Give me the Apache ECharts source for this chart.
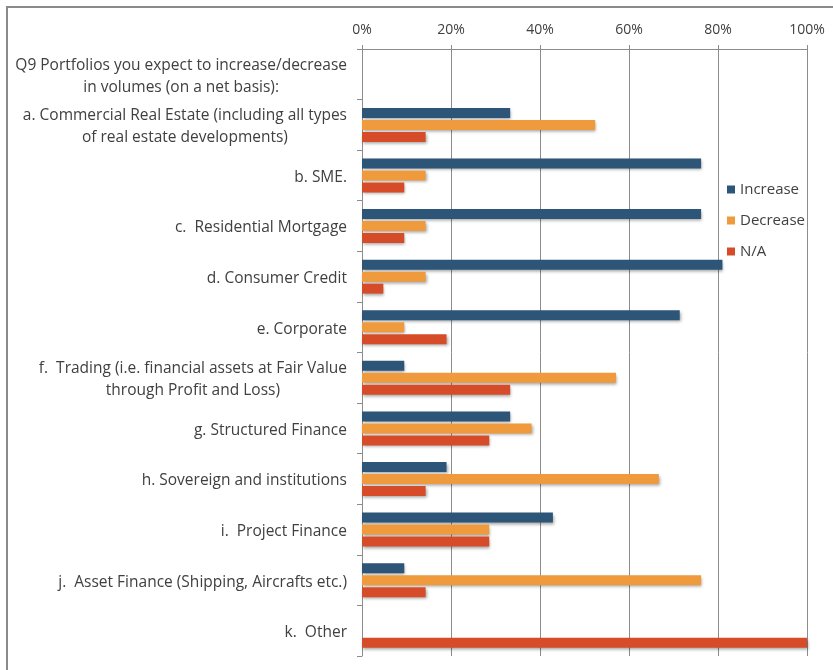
<!DOCTYPE html>
<html>
<head>
<meta charset="utf-8">
<script src="https://cdn.jsdelivr.net/npm/echarts@6/dist/echarts.min.js"></script>
<style>
html,body{margin:0;padding:0;background:#fff;}
#main{width:833px;height:670px;}
</style>
</head>
<body>
<div id="main"></div>
<script>
var categories = [
  'Q9 Portfolios you expect to increase/decrease\nin volumes (on a net basis):',
  'a. Commercial Real Estate (including all types\nof real estate developments)',
  'b. SME.',
  'c.  Residential Mortgage',
  'd. Consumer Credit',
  'e. Corporate',
  'f.  Trading (i.e. financial assets at Fair Value\nthrough Profit and Loss)',
  'g. Structured Finance',
  'h. Sovereign and institutions',
  'i.  Project Finance',
  'j.  Asset Finance (Shipping, Aircrafts etc.)',
  'k.  Other'
];
var increase = [null, 33.3, 76.2, 76.2, 81.0, 71.4, 9.5, 33.3, 19.0, 42.9, 9.5, 0];
var decrease = [null, 52.4, 14.3, 14.3, 14.3, 9.5, 57.1, 38.1, 66.7, 28.6, 76.2, 0];
var na = [null, 14.3, 9.5, 9.5, 4.8, 19.0, 33.3, 28.6, 14.3, 28.6, 14.3, 100];
var xTicks = [0, 20, 40, 60, 80, 100];

var myChart = echarts.init(document.getElementById('main'));
var FONT = 'Open Sans';
var shadow = {
  shadowColor: 'rgba(0,0,0,0.35)',
  shadowBlur: 3,
  shadowOffsetX: 1,
  shadowOffsetY: 2
};
function bar(name, data, color) {
  return {
    name: name,
    type: 'bar',
    data: data,
    barWidth: 10,
    barGap: '20%',
    itemStyle: Object.assign({color: color}, shadow)
  };
}
var option = {
  animation: false,
  textStyle: {fontFamily: FONT},
  graphic: [{
    type: 'rect',
    shape: {x: 7, y: 7, width: 900, height: 700},
    style: {fill: 'none', stroke: '#8a8a8a', lineWidth: 2},
    silent: true
  }],
  legend: {
    orient: 'vertical',
    left: 722,
    top: 177,
    itemWidth: 8,
    itemHeight: 8,
    itemGap: 16,
    icon: 'rect',
    textStyle: {color: '#404040', fontSize: 15, fontFamily: FONT},
    data: ['Increase', 'Decrease', 'N/A']
  },
  grid: {left: 362, right: 26, top: 49, bottom: 14},
  xAxis: {
    type: 'value',
    position: 'top',
    min: xTicks[0],
    max: xTicks[xTicks.length - 1],
    interval: xTicks[1] - xTicks[0],
    axisLine: {show: true, lineStyle: {color: '#8c8c8c'}},
    axisTick: {show: true, length: 4, lineStyle: {color: '#8c8c8c'}},
    splitLine: {show: true, lineStyle: {color: '#8c8c8c', width: 1}},
    axisLabel: {
      color: '#404040', fontSize: 14, margin: 12, fontFamily: FONT,
      formatter: function (v) { return v + '%'; }
    }
  },
  yAxis: {
    type: 'category',
    inverse: true,
    data: categories,
    axisLine: {show: true, lineStyle: {color: '#8c8c8c'}},
    axisTick: {show: true, length: 5, lineStyle: {color: '#8c8c8c'}},
    axisLabel: {
      color: '#404040',
      fontSize: 15.5,
      margin: 15,
      padding: [4, 0, 0, 0],
      formatter: function (v) {
        return v.split('\n').map(function (l) { return '{c|' + l + '}'; }).join('\n');
      },
      rich: {c: {align: 'center', fontSize: 15.5, lineHeight: 22, color: '#404040', fontFamily: FONT}}
    }
  },
  series: [
    bar('Increase', increase, '#2d5578'),
    bar('Decrease', decrease, '#ee9a3d'),
    bar('N/A', na, '#d64c29')
  ]
};
myChart.setOption(option);
</script>
</body>
</html>
